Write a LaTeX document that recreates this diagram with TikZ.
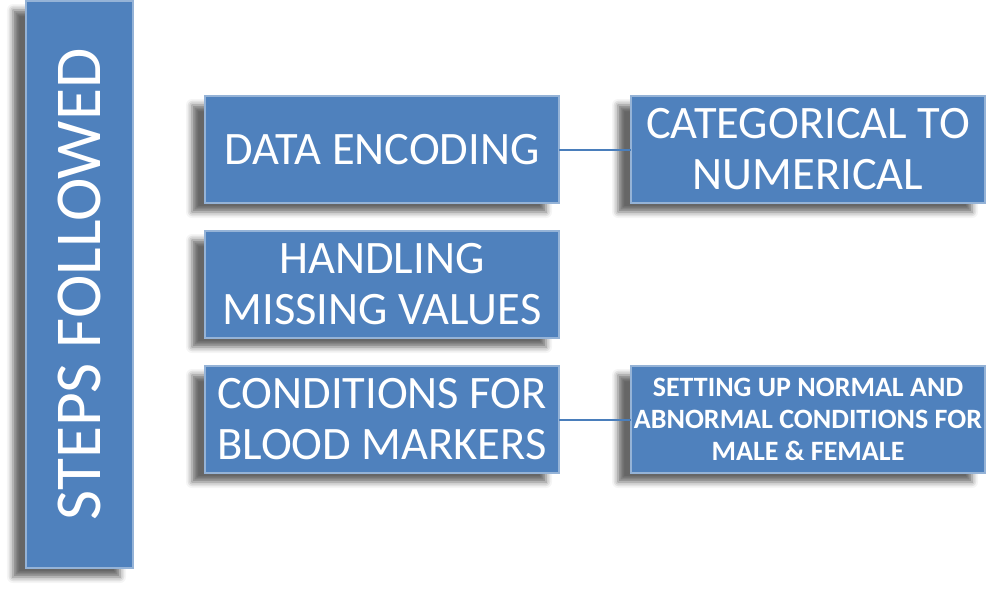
\documentclass[tikz,border=0pt]{standalone}
\usepackage{fontspec}
\setmainfont{Carlito}
\usetikzlibrary{positioning, shadows.blur}

\definecolor{stepblue}{HTML}{4F81BD}
\definecolor{stepedge}{HTML}{95B3D7}
\definecolor{linkblue}{HTML}{4A7EBB}

\begin{document}
\begin{tikzpicture}[
  x=1pt, y=-1pt,
  % --- Style definitions ---
  stepbox/.style={draw=stepedge, fill=stepblue, line width=1.5pt, text=white,
                  minimum width=354pt, minimum height=107pt, align=center,
                  inner sep=0pt, outer sep=0pt,
                  blur shadow={shadow xshift=-13pt, shadow yshift=-9pt,
                               shadow blur radius=6pt, shadow opacity=60}},
  big/.style={font=\fontsize{46.5}{51}\selectfont},
  small/.style={font=\fontsize{28}{32}\selectfont\bfseries},
  link/.style={color=linkblue, line width=2pt},
]

\useasboundingbox (0,0) rectangle (986,592);

% ===== Nodes =====

% --- Column 2: the steps ---
\node[stepbox, big] (enc) at (382,149.5) {DATA ENCODING};
\node[stepbox, big, below=28pt of enc] (miss) {HANDLING\\MISSING VALUES};
\node[stepbox, big, below=28pt of miss] (cond) {CONDITIONS FOR\\BLOOD MARKERS};

% --- Column 3: details ---
\node[stepbox, big, right=72pt of enc] (cat) {CATEGORICAL TO\\NUMERICAL};
\node[stepbox, small, right=72pt of cond] (setup) {SETTING UP NORMAL AND\\ABNORMAL CONDITIONS FOR\\MALE \& FEMALE};

% --- Column 1: title bar ---
\node[stepbox, minimum width=107pt, minimum height=567pt, left=72pt of miss,
      label={[rotate=90, text=white, font=\fontsize{65.5}{70}\selectfont]center:STEPS FOLLOWED}] (steps) {};

% ===== Connectors =====
\draw[link] (enc) -- (cat);
\draw[link] (cond) -- (setup);

\end{tikzpicture}
\end{document}
